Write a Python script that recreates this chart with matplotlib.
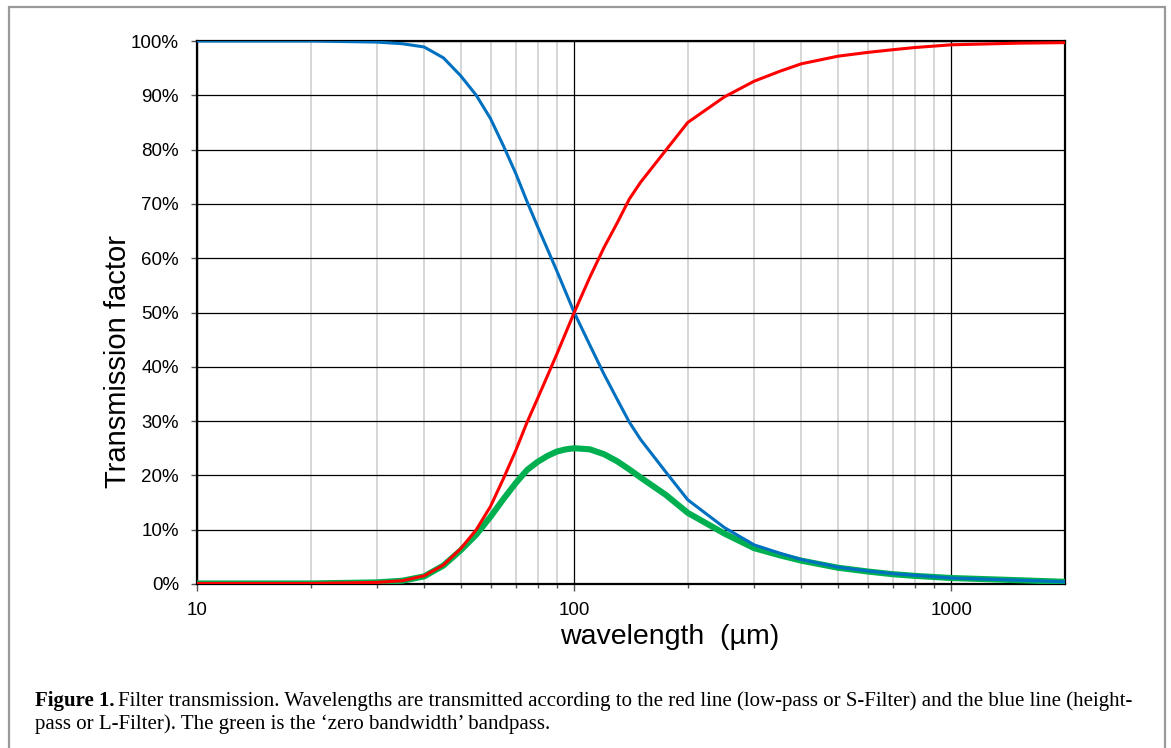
import matplotlib
matplotlib.use("Agg")
import matplotlib.pyplot as plt
from matplotlib.patches import Rectangle
from matplotlib.ticker import FixedLocator, NullFormatter, FuncFormatter

# wavelength samples (um) and transmission (%) of the three filters
wavelength = [10, 20, 30, 35, 40, 45, 50, 55, 60, 65, 70, 75, 80, 85, 90, 95,
              100, 110, 120, 130, 140, 150, 175, 200, 250, 300, 350, 400, 500,
              600, 700, 800, 1000, 1500, 2000]
low_pass = [0.1, 0.1, 0.3, 0.6, 1.5, 3.5, 6.5, 10.0, 14.3, 19.5, 24.6, 29.8,
            34.2, 38.4, 42.4, 46.3, 50.0, 56.5, 62.0, 66.5, 70.9, 74.0, 79.9,
            85.0, 89.7, 92.6, 94.4, 95.8, 97.2, 97.9, 98.4, 98.8, 99.3, 99.6, 99.7]
high_pass = [100.0, 100.0, 99.8, 99.5, 98.9, 96.9, 93.6, 90.0, 85.7, 80.6,
             75.6, 70.4, 65.8, 61.6, 57.6, 53.7, 50.0, 44.0, 38.6, 34.0, 29.8,
             26.6, 20.6, 15.5, 10.4, 7.2, 5.7, 4.5, 3.1, 2.4, 1.9, 1.6, 1.1, 0.7, 0.4]
bandpass = [0.1, 0.1, 0.3, 0.6, 1.4, 3.4, 6.2, 9.1, 12.4, 15.7, 18.6, 21.0,
            22.5, 23.6, 24.4, 24.8, 25.0, 24.8, 23.9, 22.6, 21.1, 19.6, 16.4,
            13.1, 9.3, 6.6, 5.3, 4.3, 3.0, 2.3, 1.8, 1.5, 1.1, 0.7, 0.4]

W, H = 1171, 748
fig = plt.figure(figsize=(W / 100, H / 100), dpi=100)
fig.patch.set_facecolor("white")

# grey frame round the figure panel (open at the bottom edge)
fig.patches.append(Rectangle((9 / W, -0.05), (1165 - 9) / W, 1.05 - 7 / H,
                             transform=fig.transFigure, fill=False,
                             edgecolor="#9a9a9a", linewidth=1.6))

ax = fig.add_axes([197 / W, 1 - 584 / H, (1065 - 197) / W, (584 - 41) / H])
ax.set_xscale("log")
ax.set_xlim(10, 2000)
ax.set_ylim(0, 100)

minor = [m * d for d in (10, 100, 1000) for m in range(2, 10) if m * d < 2000]
ax.xaxis.set_major_locator(FixedLocator([10, 100, 1000]))
ax.xaxis.set_minor_locator(FixedLocator(minor))
ax.xaxis.set_minor_formatter(NullFormatter())
ax.xaxis.set_major_formatter(FuncFormatter(lambda v, p: f"{v:g}"))
ax.yaxis.set_major_locator(FixedLocator(range(0, 101, 10)))
ax.yaxis.set_major_formatter(FuncFormatter(lambda v, p: f"{v:.0f}%"))

ax.grid(which="major", axis="both", color="black", linewidth=0.9)
ax.grid(which="minor", axis="x", color="#cfcfcf", linewidth=1.2)
ax.set_axisbelow(True)

for s in ax.spines.values():
    s.set_linewidth(1.6)
    s.set_color("black")

ax.tick_params(axis="y", which="major", length=4.3, width=1, color="#555555",
               pad=8.7, labelsize=13.5)
ax.tick_params(axis="x", which="major", length=5, width=1, color="#555555",
               pad=8, labelsize=13.5)
ax.tick_params(axis="x", which="minor", length=3, width=1, color="#555555")
for lab in ax.get_xticklabels() + ax.get_yticklabels():
    lab.set_family(["Liberation Sans", "DejaVu Sans"])

ax.plot(wavelength, bandpass, color="#00b050", linewidth=4.4,
        solid_capstyle="butt", zorder=3)
ax.plot(wavelength, high_pass, color="#0070c0", linewidth=2.2, zorder=4)
ax.plot(wavelength, low_pass, color="#ff0000", linewidth=2.2, zorder=5)

fig.text(118 / W, 1 - 361 / H, "Transmission factor", rotation=90,
         ha="center", va="center", fontsize=21,
         family=["Liberation Sans", "DejaVu Sans"])
fig.text(670 / W, 1 - 637 / H, "wavelength  (\u00b5m)", ha="center",
         va="center", fontsize=20.5, family=["Liberation Sans", "DejaVu Sans"])

# caption below the chart
serif = ["Liberation Serif", "DejaVu Serif"]
cap_size = 15
t = fig.text(35 / W, 1 - 706 / H, "Figure 1.", fontsize=cap_size,
             fontweight="bold", family=serif, va="baseline")
fig.canvas.draw()
bb = t.get_window_extent()
fig.text((bb.x1 + 4) / W, 1 - 706 / H,
         "Filter transmission. Wavelengths are transmitted according to the red "
         "line (low-pass or S-Filter) and the blue line (height-",
         fontsize=cap_size, family=serif, va="baseline")
fig.text(35 / W, 1 - 729 / H,
         "pass or L-Filter). The green is the \u2018zero bandwidth\u2019 bandpass.",
         fontsize=cap_size, family=serif, va="baseline")

fig.savefig("out.png", dpi=100, facecolor="white")
